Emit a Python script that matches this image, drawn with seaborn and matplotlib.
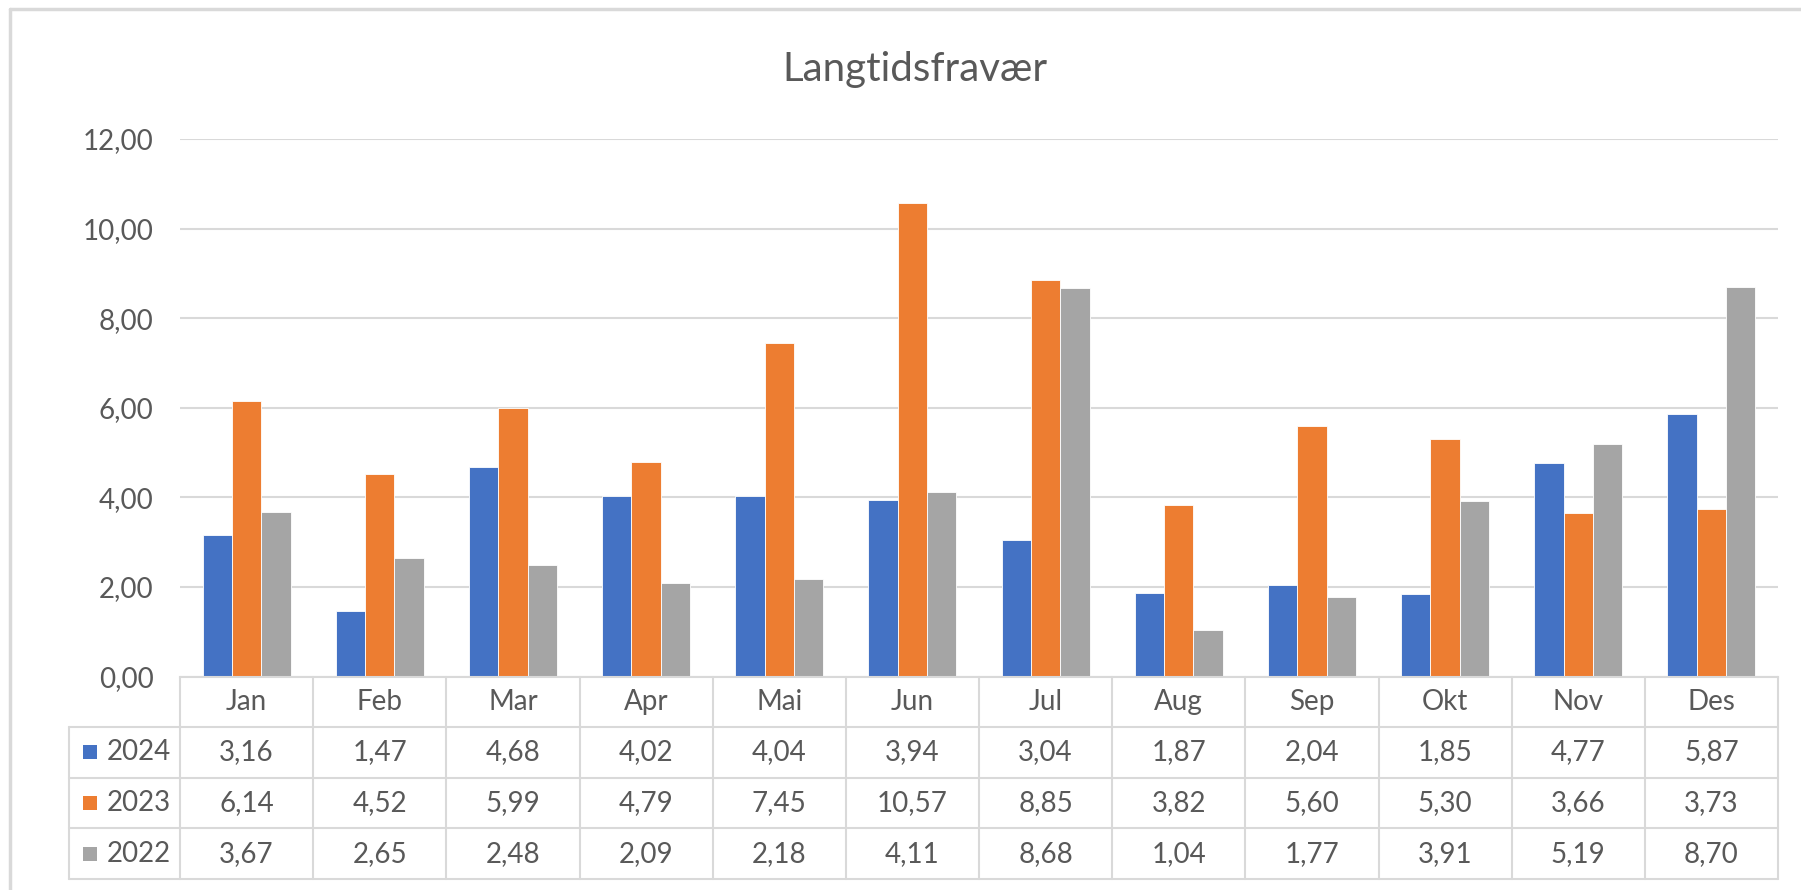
import numpy as np
import pandas as pd
import seaborn as sns
import matplotlib.pyplot as plt
from matplotlib.patches import Rectangle
from matplotlib.lines import Line2D
import matplotlib.transforms as mtransforms

months = ['Jan', 'Feb', 'Mar', 'Apr', 'Mai', 'Jun', 'Jul', 'Aug', 'Sep', 'Okt', 'Nov', 'Des']
years = ['2024', '2023', '2022']
v2024 = [3.16, 1.47, 4.68, 4.02, 4.04, 3.94, 3.04, 1.87, 2.04, 1.85, 4.77, 5.87]
v2023 = [6.14, 4.52, 5.99, 4.79, 7.45, 10.57, 8.85, 3.82, 5.60, 5.30, 3.66, 3.73]
v2022 = [3.67, 2.65, 2.48, 2.09, 2.18, 4.11, 8.68, 1.04, 1.77, 3.91, 5.19, 8.70]
colors = ['#4472C4', '#ED7D31', '#A5A5A5']

series = {'2024': v2024, '2023': v2023, '2022': v2022}
rows = []
for y, vals in series.items():
    for m, v in zip(months, vals):
        rows.append({'month': m, 'year': y, 'value': v})
df = pd.DataFrame(rows)

sns.set_style('white')
plt.rcParams['font.family'] = ['Lato', 'DejaVu Sans']
txt = '#595959'
grid = '#D9D9D9'
fs = 20

W, H = 1801, 890
fig = plt.figure(figsize=(W / 100, H / 100), dpi=100)
ax = fig.add_axes([180 / W, 1 - 676.5 / H, (1778 - 180) / W, (676.5 - 139) / H])

sns.barplot(data=df, x='month', y='value', hue='year', order=months, hue_order=years,
            palette=colors, width=0.66, gap=0, saturation=1, ax=ax, legend=False,
            edgecolor='white', linewidth=0.6)

ax.set_xlim(-0.5, 11.5)
ax.set_ylim(0, 12)
ax.set_yticks(np.arange(0, 13, 2))
ax.set_yticklabels([f'{t:.2f}'.replace('.', ',') for t in np.arange(0, 13, 2)],
                   fontsize=fs, color=txt)
ax.tick_params(axis='y', length=0, pad=19)
ax.set_xticks([])
ax.set_xlabel('')
ax.set_ylabel('')
ax.yaxis.grid(True, color=grid, linewidth=1.5)
ax.set_axisbelow(True)
for s in ['top', 'right', 'left']:
    ax.spines[s].set_visible(False)
ax.spines['bottom'].set_color(grid)
ax.spines['bottom'].set_linewidth(1.5)

fig.text(797 * 1801 / 1568 / W, 1 - 70 / H, 'Langtidsfravær', ha='center', va='center',
         fontsize=29, color=txt)

# data table below the axis
trans = mtransforms.blended_transform_factory(ax.transData, ax.transAxes)
axh = 676.5 - 139
row_h = 50.6 / axh
colw = (1778 - 180) / 12
leg_left = -0.5 - (180 - 69) / colw
lkw = dict(color=grid, linewidth=1.5, transform=trans, clip_on=False)

# header row with month names
for i, m in enumerate(months):
    ax.text(i, -row_h / 2, m, ha='center', va='center', fontsize=fs, color=txt,
            transform=trans, clip_on=False)
for k in range(13):
    ax.add_line(Line2D([k - 0.5, k - 0.5], [0, -4 * row_h], **lkw))
for r in range(1, 5):
    ax.add_line(Line2D([leg_left, 11.5], [-r * row_h, -r * row_h], **lkw))
ax.add_line(Line2D([leg_left, leg_left], [-row_h, -4 * row_h], **lkw))

for r, (y, vals) in enumerate(series.items(), start=1):
    yc = -(r + 0.5) * row_h
    ax.add_patch(Rectangle((leg_left + 14 / colw, yc - 7 / axh), 14 / colw, 14 / axh,
                           facecolor=colors[r - 1], edgecolor='none',
                           transform=trans, clip_on=False))
    ax.text(leg_left + 38 / colw, yc, y, ha='left', va='center', fontsize=fs,
            color=txt, transform=trans, clip_on=False)
    for i, v in enumerate(vals):
        ax.text(i, yc, f'{v:.2f}'.replace('.', ','), ha='center', va='center',
                fontsize=fs, color=txt, transform=trans, clip_on=False)

# chart frame (only top and left edges visible)
fig.add_artist(Line2D([10 / W, 1], [1 - 9 / H, 1 - 9 / H], color=grid, linewidth=2.5,
                      transform=fig.transFigure))
fig.add_artist(Line2D([10 / W, 10 / W], [0, 1 - 9 / H], color=grid, linewidth=2.5,
                      transform=fig.transFigure))

fig.savefig('out.png', dpi=100, facecolor='white')
